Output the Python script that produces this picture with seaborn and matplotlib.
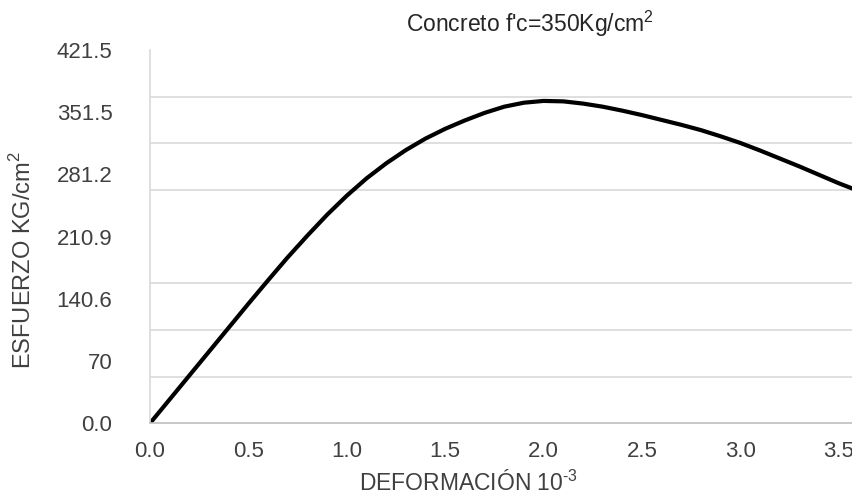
import matplotlib
matplotlib.use("Agg")
import matplotlib.pyplot as plt
import seaborn as sns
import pandas as pd
import numpy as np

sns.set_style("white")
plt.rcParams['font.family'] = ['Liberation Sans', 'DejaVu Sans']
plt.rcParams['mathtext.fontset'] = 'custom'
plt.rcParams['mathtext.rm'] = 'Liberation Sans'

# strain (x 10^-3) and stress (kg/cm2)
deformacion = [0.0, 0.1, 0.2, 0.3, 0.4, 0.5, 0.6, 0.7, 0.8, 0.9, 1.0,
               1.1, 1.2, 1.3, 1.4, 1.5, 1.6, 1.7, 1.8, 1.9, 2.0,
               2.1, 2.2, 2.3, 2.4, 2.5, 2.6, 2.7, 2.8, 2.9, 3.0,
               3.1, 3.2, 3.3, 3.4, 3.5, 3.57]
esfuerzo = [0.0, 27.0, 54.0, 81.0, 108.0, 135.0, 161.5, 187.5, 212.0, 235.5, 257.0,
            276.5, 293.5, 308.5, 321.5, 332.5, 342.0, 350.5, 357.5, 362.0, 364.0,
            363.5, 361.0, 357.5, 353.0, 348.0, 342.5, 337.0, 331.0, 324.0, 316.5,
            308.0, 299.0, 290.0, 280.5, 271.0, 265.0]

x_ticks = [0.0, 0.5, 1.0, 1.5, 2.0, 2.5, 3.0, 3.5]
y_labels = ['0.0', '70', '140.6', '210.9', '281.2', '351.5', '421.5']
y_max = 421.5

df = pd.DataFrame({'def': deformacion, 'esf': esfuerzo})

txt = '#404040'
fig = plt.figure(figsize=(8.53, 4.97), dpi=100)
ax = fig.add_axes([150/853, 73.7/497, 703/853, 373.3/497])

sns.lineplot(data=df, x='def', y='esf', ax=ax, color='black', linewidth=3.0)
ax.lines[0].set_solid_joinstyle('round')

ax.set_xlim(0, 3.572)
ax.set_ylim(0, y_max)

ax.set_xticks(x_ticks)
ax.set_xticklabels(['%.1f' % v for v in x_ticks])
ax.set_yticks(np.linspace(0, y_max, len(y_labels)))
ax.set_yticklabels(y_labels)
ax.set_yticks(np.linspace(0, y_max, 9), minor=True)
ax.grid(False)
ax.grid(which='minor', axis='y', color='#d9d9d9', linewidth=1.2)
ax.tick_params(axis='both', which='both', length=0, labelsize=16, labelcolor=txt)
ax.tick_params(axis='x', pad=13)
ax.tick_params(axis='y', pad=27)

for s in ['top', 'right']:
    ax.spines[s].set_visible(False)
ax.spines['left'].set_color('#d9d9d9')
ax.spines['bottom'].set_color('#bfbfbf')
ax.spines['left'].set_linewidth(1.2)
ax.spines['bottom'].set_linewidth(1.2)

ax.set_xlabel('DEFORMACIÓN 10$^{\\mathregular{\u20103}}$', fontsize=16.5, color=txt)
ax.set_ylabel(r'ESFUERZO KG/cm$^{\mathregular{2}}$', fontsize=17, color=txt)
ax.xaxis.set_label_coords((469-150)/703, -(483-423.3)/373.3)
ax.yaxis.set_label_coords(-(150-23)/703, (423.3-260)/373.3)
ax.xaxis.label.set_va('center')
ax.yaxis.label.set_va('center')

fig.text(530/853, 1-23.5/497, r"Concreto f'c=350Kg/cm$^{\mathregular{2}}$",
         ha='center', va='center', fontsize=16.5, color='#262626')

fig.savefig('out.png', dpi=100)
